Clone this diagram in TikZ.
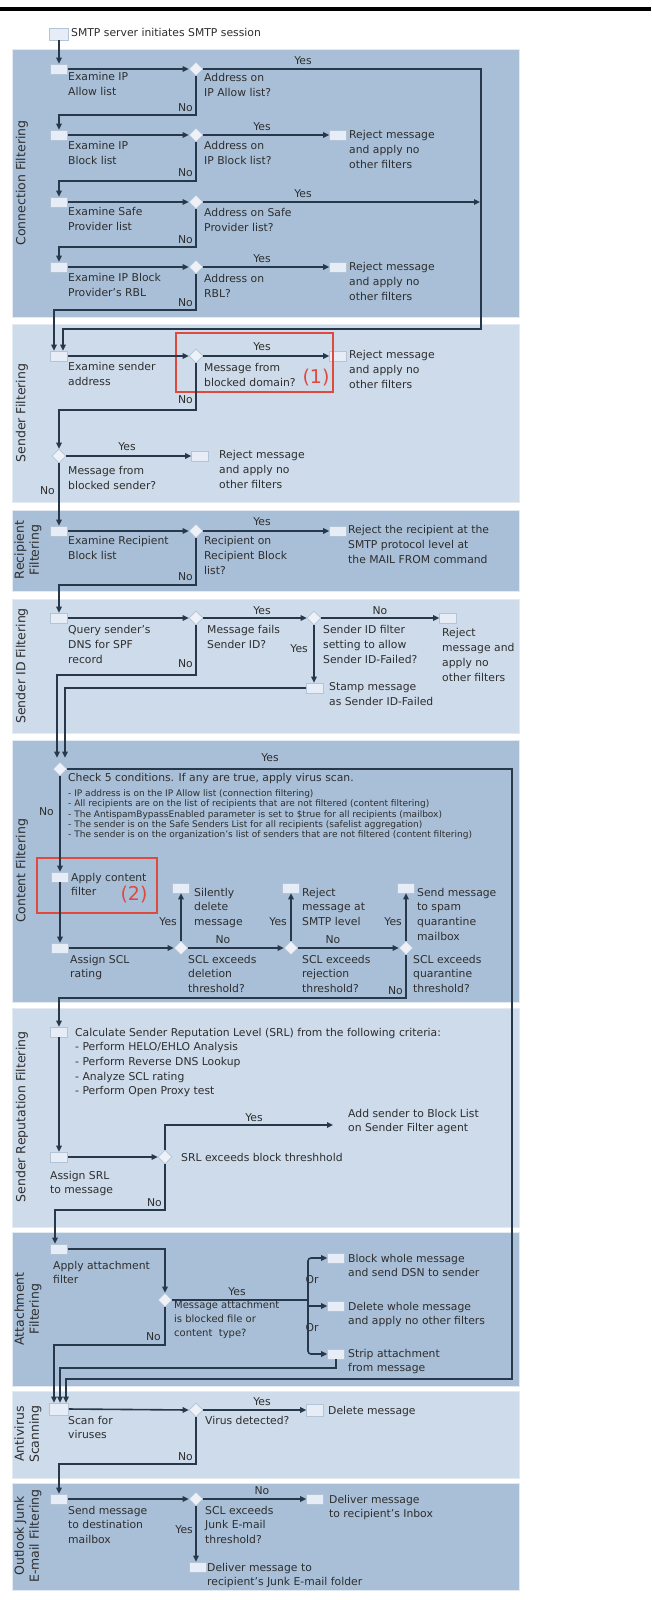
\documentclass[tikz,border=0pt]{standalone}
\usepackage{fontspec}
\setmainfont{DejaVu Sans}
\usetikzlibrary{shapes.geometric,arrows.meta}
\definecolor{bandD}{HTML}{A8BFD7}
\definecolor{bandL}{HTML}{CDDBEA}
\definecolor{bandE}{HTML}{E3EAF2}
\definecolor{linec}{HTML}{27384A}
\definecolor{txtc}{HTML}{2E2E2E}
\definecolor{boxf}{HTML}{E6EDF6}
\definecolor{diaf}{HTML}{EEF2F8}
\definecolor{boxb}{HTML}{B3C4D6}
\definecolor{redc}{HTML}{E04A3C}
\newcommand\fm{\fontsize{10.8}{14.7}\selectfont}
\newcommand\fsm{\fontsize{9}{10.3}\selectfont}
\newcommand\fma{\fontsize{10}{14}\selectfont}
\newcommand\fvl{\fontsize{12.5}{15}\selectfont}
\begin{document}
\begin{tikzpicture}[x=1pt,y=-1pt,
 bx/.style={rectangle, draw=boxb, line width=0.6pt, fill=boxf, minimum width=17pt, minimum height=10pt, inner sep=0pt},
 dm/.style={diamond, draw=boxb, line width=0.6pt, fill=diaf, minimum width=14pt, minimum height=14pt, inner sep=0pt, aspect=1},
 tx/.style={anchor=north west, inner sep=0pt, align=left, font=\fm, text=txtc, yshift=6.5pt},
 txs/.style={anchor=north west, inner sep=0pt, align=left, font=\fsm, text=txtc, yshift=4.0pt},
 yn/.style={inner sep=0pt, font=\fm, text=txtc},
 ln/.style={draw=linec, line width=1.6pt},
 arr/.style={ln, -{Triangle[length=6pt,width=5.5pt]}},
 band/.style={fill=#1, draw=bandE, line width=1pt},
 vlab/.style={rotate=90, font=\fvl, text=txtc, align=center, inner sep=0pt},
 redbox/.style={draw=redc, line width=1.2pt},
 rednum/.style={text=redc, font=\fontsize{19}{22}\selectfont, inner sep=0pt}]
\useasboundingbox (0,0) rectangle (651,1600);
\fill[white] (0,0) rectangle (651,1600);
\fill[black] (0,7) rectangle (651,11);
% bands
\path[band=bandD] (12,50) rectangle (519,317);
\path[band=bandL] (12,324) rectangle (519,502);
\path[band=bandD] (12,510) rectangle (519,591);
\path[band=bandL] (12,599) rectangle (519,733);
\path[band=bandD] (12,740) rectangle (519,1002);
\path[band=bandL] (12,1008) rectangle (519,1227);
\path[band=bandD] (12,1232) rectangle (519,1386);
\path[band=bandL] (12,1391) rectangle (519,1478);
\path[band=bandD] (12,1483) rectangle (519,1590);
% band labels
\node[vlab] (L1) at (22,183) {Connection Filtering};
\node[vlab] (L2) at (22,413) {Sender Filtering};
\node[vlab] (L3) at (28,550) {Recipient\\Filtering};
\node[vlab] (L4) at (22,666) {Sender ID Filtering};
\node[vlab] (L5) at (22,871) {Content Filtering};
\node[vlab] (L6) at (22,1117) {Sender Reputation Filtering};
\node[vlab] (L7) at (28,1309) {Attachment\\Filtering};
\node[vlab] (L8) at (28,1434) {Antivirus\\Scanning};
\node[vlab] (L9) at (28,1536) {Outlook Junk\\E-mail Filtering};
% start
\node[bx, minimum width=19pt, minimum height=12pt] (b0) at (59,34) {};
\node[tx] (tb0) at (71,33) {\strut SMTP server initiates SMTP session};
% ---------- Connection filtering
\node[bx] (c1) at (59,69) {};
\node[tx] (tc1) at (68,77) {\strut Examine IP\\Allow list};
\node[dm] (d1) at (196,69) {};
\node[tx] (td1) at (204,78) {\strut Address on\\IP Allow list?};
\node[yn] (y1) at (303,61) {Yes};
\node[yn, anchor=east] (n1) at (193,108) {No};
\node[bx] (c2) at (59,135) {};
\node[tx] (tc2) at (68,146) {\strut Examine IP\\Block list};
\node[dm] (d2) at (196,135) {};
\node[tx] (td2) at (204,146) {\strut Address on\\IP Block list?};
\node[yn] (y2) at (262,127) {Yes};
\node[bx] (r2) at (338,135) {};
\node[tx] (tr2) at (349,135) {\strut Reject message\\and apply no\\other filters};
\node[yn, anchor=east] (n2) at (193,173) {No};
\node[bx] (c3) at (59,202) {};
\node[tx] (tc3) at (68,212) {\strut Examine Safe\\Provider list};
\node[dm] (d3) at (196,202) {};
\node[tx] (td3) at (204,213) {\strut Address on Safe\\Provider list?};
\node[yn] (y3) at (303,194) {Yes};
\node[yn, anchor=east] (n3) at (193,240) {No};
\node[bx] (c4) at (59,267) {};
\node[tx] (tc4) at (68,278) {\strut Examine IP Block\\Provider's RBL};
\node[dm] (d4) at (196,267) {};
\node[tx] (td4) at (204,279) {\strut Address on\\RBL?};
\node[yn] (y4) at (262,259) {Yes};
\node[bx] (r4) at (338,267) {};
\node[tx] (tr4) at (349,267) {\strut Reject message\\and apply no\\other filters};
\node[yn, anchor=east] (n4) at (193,303) {No};
\coordinate (safe) at (480,202);
% ---------- Sender filtering
\node[bx] (s1) at (59,356) {};
\node[tx] (ts1) at (68,367) {\strut Examine sender\\address};
\node[dm] (sd1) at (196,356) {};
\node[tx] (tsd1) at (204,368) {\strut Message from\\blocked domain?};
\node[yn] (ys1) at (262,347) {Yes};
\node[bx] (sr1) at (338,356) {};
\node[tx] (tsr1) at (349,355) {\strut Reject message\\and apply no\\other filters};
\draw[redbox] (176,333) rectangle (333,392);
\node[rednum] (red1) at (316,378) {(1)};
\node[yn, anchor=east] (ns1) at (193,400) {No};
\node[dm] (sd2) at (59,456) {};
\node[yn] (ys2) at (127,447) {Yes};
\node[bx] (sr2) at (200,456) {};
\node[tx] (tsr2) at (219,455) {\strut Reject message\\and apply no\\other filters};
\node[tx] (tsd2) at (68,471) {\strut Message from\\blocked sender?};
\node[yn, anchor=east] (ns2) at (55,491) {No};
% ---------- Recipient filtering
\node[bx] (rc1) at (59,531) {};
\node[tx] (trc1) at (68,541) {\strut Examine Recipient\\Block list};
\node[dm] (rd1) at (196,531) {};
\node[tx] (trd1) at (204,541) {\strut Recipient on\\Recipient Block\\list?};
\node[yn] (yr1) at (262,522) {Yes};
\node[bx] (rr1) at (338,531) {};
\node[tx] (trr1) at (348,530) {\strut Reject the recipient at the\\SMTP protocol level at\\the MAIL FROM command};
\node[yn, anchor=east] (nr1) at (193,577) {No};
% ---------- Sender ID filtering
\node[bx] (id1) at (59,618) {};
\node[tx] (tid1) at (68,630) {\strut Query sender's\\DNS for SPF\\record};
\node[dm] (idd1) at (196,618) {};
\node[tx] (tidd1) at (207,630) {\strut Message fails\\Sender ID?};
\node[yn] (yid1) at (262,611) {Yes};
\node[dm] (idd2) at (314,618) {};
\node[tx] (tidd2) at (323,630) {\strut Sender ID filter\\setting to allow\\Sender ID-Failed?};
\node[yn] (nid2) at (380,611) {No};
\node[bx] (idr) at (448,618) {};
\node[tx] (tidr) at (442,633) {\strut Reject\\message and\\apply no\\other filters};
\node[yn, anchor=east] (yid2) at (308,649) {Yes};
\node[bx] (ids) at (315,688) {};
\node[tx] (tids) at (329,687) {\strut Stamp message\\as Sender ID-Failed};
\node[yn, anchor=east] (nid1) at (193,664) {No};
% ---------- Content filtering
\node[dm] (cd) at (60,769) {};
\node[yn] (ycd) at (270,758) {Yes};
\node[tx] (tcd) at (68,778) {\strut Check 5 conditions. If any are true, apply virus scan.};
\node[txs] (tcdb) at (68,793) {\strut - IP address is on the IP Allow list (connection filtering)\\- All recipients are on the list of recipients that are not filtered (content filtering)\\- The AntispamBypassEnabled parameter is set to \$true for all recipients (mailbox)\\- The sender is on the Safe Senders List for all recipients (safelist aggregation)\\- The sender is on the organization's list of senders that are not filtered (content filtering)};
\node[yn, anchor=east] (ncd) at (54,812) {No};
\node[bx] (cf) at (60,877) {};
\node[tx] (tcf) at (71,877) {\strut Apply content\\filter};
\draw[redbox] (37,858) rectangle (157,913);
\node[rednum] (red2) at (134,895) {(2)};
\node[bx] (sc) at (60,948) {};
\node[tx] (tsc) at (70,959) {\strut Assign SCL\\rating};
\node[dm] (e1) at (181,948) {};
\node[tx] (te1) at (188,959) {\strut SCL exceeds\\deletion\\threshold?};
\node[yn] (ne1) at (223,940) {No};
\node[dm] (e2) at (291,948) {};
\node[tx] (te2) at (302,959) {\strut SCL exceeds\\rejection\\threshold?};
\node[yn] (ne2) at (333,940) {No};
\node[dm] (e3) at (406,948) {};
\node[tx] (te3) at (413,959) {\strut SCL exceeds\\quarantine\\threshold?};
\node[yn, anchor=east] (ne3) at (403,991) {No};
\node[bx] (u1) at (181,888) {};
\node[tx] (tu1) at (194,892) {\strut Silently\\delete\\message};
\node[bx] (u2) at (291,888) {};
\node[tx] (tu2) at (302,892) {\strut Reject\\message at\\SMTP level};
\node[bx] (u3) at (406,888) {};
\node[tx] (tu3) at (417,892) {\strut Send message\\to spam\\quarantine\\mailbox};
\node[yn, anchor=east] (yu1) at (177,922) {Yes};
\node[yn, anchor=east] (yu2) at (287,922) {Yes};
\node[yn, anchor=east] (yu3) at (402,922) {Yes};
% ---------- Sender reputation
\node[bx] (srl) at (59,1032) {};
\node[tx] (tsrl) at (75,1032) {\strut Calculate Sender Reputation Level (SRL) from the following criteria:\\- Perform HELO/EHLO Analysis\\- Perform Reverse DNS Lookup\\- Analyze SCL rating\\- Perform Open Proxy test};
\node[bx] (asr) at (59,1157) {};
\node[tx] (tasr) at (50,1175) {\strut Assign SRL\\to message};
\node[dm] (srd) at (165,1157) {};
\node[tx] (tsrd) at (181,1157) {\strut SRL exceeds block threshhold};
\coordinate (blk) at (333,1125);
\node[yn] (ysrd) at (254,1118) {Yes};
\node[tx] (tblk) at (348,1113) {\strut Add sender to Block List\\on Sender Filter agent};
\node[yn, anchor=east] (nsrd) at (162,1203) {No};
% ---------- Attachment filtering
\node[bx] (att) at (59,1249) {};
\node[tx] (tatt) at (53,1265) {\strut Apply attachment\\filter};
\node[dm] (atd) at (165,1300) {};
\node[tx, font=\fma, yshift=6.2pt] (tatd) at (174,1311) {\strut Message attachment\\is blocked file or\\content\ \ type?};
\node[yn] (yatd) at (237,1292) {Yes};
\coordinate (orj) at (308,1300);
\coordinate (orm) at (308,1306);
\node[bx] (ab1) at (336,1258) {};
\node[bx] (ab2) at (336,1306) {};
\node[bx] (ab3) at (336,1354) {};
\node[yn] (or1) at (312,1280) {Or};
\node[yn] (or2) at (312,1328) {Or};
\node[tx] (tab1) at (348,1258) {\strut Block whole message\\and send DSN to sender};
\node[tx] (tab2) at (348,1306) {\strut Delete whole message\\and apply no other filters};
\node[tx] (tab3) at (348,1353) {\strut Strip attachment\\from message};
\node[yn, anchor=east] (natd) at (161,1337) {No};
% ---------- Antivirus
\node[bx, minimum width=19pt, minimum height=12pt] (av) at (59,1409) {};
\node[tx] (tav) at (68,1420) {\strut Scan for\\viruses};
\node[dm] (avd) at (196,1410) {};
\node[tx] (tavd) at (205,1420) {\strut Virus detected?};
\node[yn] (yavd) at (262,1402) {Yes};
\node[bx, minimum height=12pt] (avr) at (315,1410) {};
\node[tx] (tavr) at (328,1410) {\strut Delete message};
\node[yn, anchor=east] (navd) at (193,1457) {No};
% ---------- Outlook
\node[bx] (ob) at (59,1499) {};
\node[tx] (tob) at (68,1510) {\strut Send message\\to destination\\mailbox};
\node[dm] (od) at (196,1499) {};
\node[tx] (tod) at (205,1510) {\strut SCL exceeds\\Junk E-mail\\threshold?};
\node[yn] (nod) at (262,1491) {No};
\node[bx] (ord) at (315,1499) {};
\node[tx] (tord) at (329,1499) {\strut Deliver message\\to recipient's Inbox};
\node[yn, anchor=east] (yod) at (193,1530) {Yes};
\node[bx] (oj) at (198,1567) {};
\node[tx] (toj) at (207,1567) {\strut Deliver message to\\recipient's Junk E-mail folder};
% ================= connectors
\draw[arr] (b0.south) -- (c1.north);
\draw[arr] (c1.east) -- (d1.west);
\draw[arr] (d1.east) -- (481,69) -- (481,329) -| ([xshift=4pt]s1.north);
\draw[arr] (d1.south) -- (196,115) -| (c2.north);
\draw[arr] (c2.east) -- (d2.west);
\draw[arr] (d2.east) -- (r2.west);
\draw[arr] (d2.south) -- (196,181) -| (c3.north);
\draw[arr] (c3.east) -- (d3.west);
\draw[arr] (d3.east) -- (safe);
\draw[arr] (d3.south) -- (196,247) -| (c4.north);
\draw[arr] (c4.east) -- (d4.west);
\draw[arr] (d4.east) -- (r4.west);
\draw[arr] (d4.south) -- (196,310) -| ([xshift=-5pt]s1.north);
\draw[arr] (s1.east) -- (sd1.west);
\draw[arr] (sd1.east) -- (sr1.west);
\draw[arr] (sd1.south) -- (196,410) -| (sd2.north);
\draw[arr] (sd2.east) -- (sr2.west);
\draw[arr] (sd2.south) -- (rc1.north);
\draw[arr] (rc1.east) -- (rd1.west);
\draw[arr] (rd1.east) -- (rr1.west);
\draw[arr] (rd1.south) -- (196,585) -| (id1.north);
\draw[arr] (id1.east) -- (idd1.west);
\draw[arr] (idd1.east) -- (idd2.west);
\draw[arr] (idd2.east) -- (idr.west);
\draw[arr] (idd2.south) -- (idd2.south |- ids.north);
\draw[arr] (idd1.south) -- (196,675) -| ([xshift=-3pt,yshift=4pt]cd.north);
\draw[arr] (ids.west) -| ([xshift=5pt,yshift=4pt]cd.north);
\draw[arr] (cd.east) -- (512,769) -- (512,1379) -| ([xshift=7pt]av.north);
\draw[arr] (cd.south) -- (cf.north);
\draw[arr] (cf.south) -- (sc.north);
\draw[arr] (sc.east) -- (e1.west);
\draw[arr] (e1.east) -- (e2.west);
\draw[arr] (e2.east) -- (e3.west);
\draw[arr] (e1.north) -- (u1.south);
\draw[arr] (e2.north) -- (u2.south);
\draw[arr] (e3.north) -- (u3.south);
\draw[arr] (e3.south) -- (406,998) -| (srl.north);
\draw[arr] (srl.south) -- (asr.north);
\draw[arr] (asr.east) -- (srd.west);
\draw[arr] (srd.north) |- (blk);
\draw[arr] (srd.south) -- (165,1210) -| ([xshift=-4pt]att.north);
\draw[arr] (att.east) -| (atd.north);
\draw[ln] (atd.east) -- (orj);
\draw[arr, rounded corners=3pt] (orj) |- (ab1.west);
\draw[arr] (orm) -- (ab2.west);
\draw[arr, rounded corners=3pt] (orj) |- (ab3.west);
\draw[arr] (atd.south) -- (165,1345) -| ([xshift=-5pt]av.north);
\draw[arr] (ab3.south) -- (336,1368) -| ([xshift=1pt]av.north);
\draw[arr] (av.east) -- (avd.west);
\draw[arr] (avd.east) -- (avr.west);
\draw[arr] (avd.south) -- (196,1464) -| (ob.north);
\draw[arr] (ob.east) -- (od.west);
\draw[arr] (od.east) -- (ord.west);
\draw[arr] (od.south) -- (od.south |- oj.north);
\end{tikzpicture}
\end{document}
